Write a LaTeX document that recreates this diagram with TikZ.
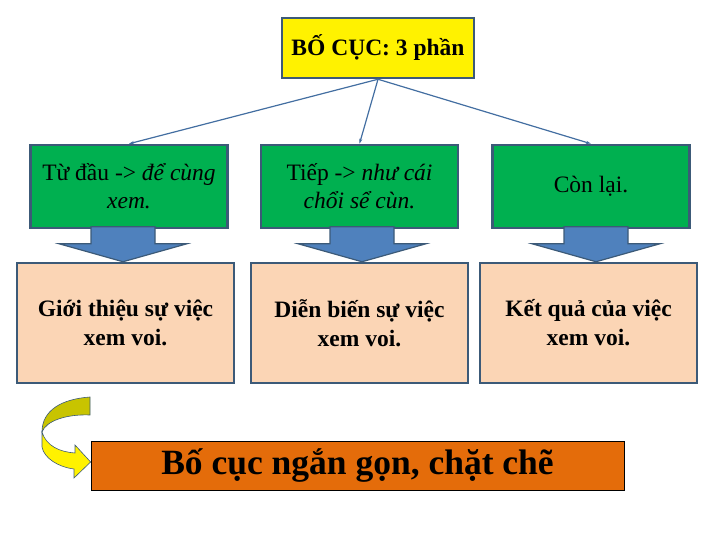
\documentclass[tikz,border=0pt]{standalone}
\usepackage{fontspec}
\setmainfont{Liberation Serif}
\usepackage{xcolor}
\usepackage{tikz}
\usetikzlibrary{calc, arrows.meta, positioning}

\definecolor{khung}{HTML}{3C5A78}
\definecolor{xanhla}{HTML}{00B050}
\definecolor{xanhduong}{HTML}{4F81BD}
\definecolor{camnhat}{HTML}{FBD5B5}
\definecolor{cam}{HTML}{E46C0A}
\definecolor{vangreu}{HTML}{C8C400}

\begin{document}
\begin{tikzpicture}[x=1pt, y=-1pt,
    hop/.style={draw=khung, line width=2.5pt, align=center, inner sep=0pt},
    tieude/.style={hop, fill=yellow, minimum width=192pt, minimum height=60pt,
        font=\fontsize{23.5}{28}\selectfont\bfseries},
    phan/.style={hop, fill=xanhla, minimum width=197pt, minimum height=83pt,
        font=\fontsize{23.5}{28}\selectfont},
    noidung/.style={hop, fill=camnhat, minimum width=217pt, minimum height=120pt,
        font=\fontsize{23.5}{29}\selectfont\bfseries},
    noi/.style={draw=xanhduong!85!black, line width=1.2pt, -{Stealth[length=5pt, width=3pt]}},
    muiten/.style={draw=khung, line width=1.2pt, fill=xanhduong}]

    \useasboundingbox (0,0) rectangle (720,540);

    % =================================================================
    % HỘP TIÊU ĐỀ
    % =================================================================
    \node[tieude] (tong) at (378,48) {BỐ CỤC: 3 phần};

    % =================================================================
    % BA PHẦN (HỘP XANH) VÀ NỘI DUNG (HỘP CAM NHẠT)
    % =================================================================
    \node[phan] (g1) at (129,186.5) {Từ đầu -> \textit{để cùng}\\\textit{xem.}};
    \node[phan] (g2) at (359.5,186.5) {Tiếp -> \textit{như cái}\\\textit{chổi sể cùn.}};
    \node[phan] (g3) at (591,186.5) {Còn lại.};

    \node[noidung] (p1) at (125.5,323) {Giới thiệu sự việc\\xem voi.};
    \node[noidung] (p2) at (359.5,323) {Diễn biến sự việc\\xem voi.};
    \node[noidung] (p3) at (588.5,323) {Kết quả của việc\\xem voi.};

    % Đường nối từ tiêu đề xuống ba phần
    \foreach \i in {1,2,3}
        \draw[noi] (tong.south) -- (g\i.north);

    % Mũi tên khối từ hộp xanh xuống hộp cam nhạt
    \foreach \i/\dx in {1/-2.5,2/2.5,3/7.5} {
        \draw[muiten] ($(p\i.north)+(\dx,0)$) -- ++(-64,-18) -- ++(32,0) -- ++(0,-17)
            -- ++(64,0) -- ++(0,17) -- ++(32,0) -- cycle;
    }

    % =================================================================
    % KẾT LUẬN VÀ MŨI TÊN CONG
    % =================================================================
    \node[draw=black, line width=0.8pt, fill=cam, minimum width=533pt, minimum height=49pt,
        inner sep=0pt, font=\fontsize{35.5}{40}\selectfont\bfseries] (ketluan) at (357.5,465.5)
        {Bố cục ngắn gọn, chặt chẽ};

    % Nửa trên (màu vàng rêu)
    \draw[khung, line width=0.6pt, fill=vangreu] (90,397) .. controls (62,399) and (42,410) .. (42,432)
        .. controls (46,421) and (66,414) .. (90,415) -- cycle;
    % Nửa dưới có đầu mũi tên (màu vàng)
    \draw[khung, line width=0.6pt, fill=yellow] (42,432) -- (42,447)
        .. controls (44,458) and (58,467) .. (74,469) -- (74,478) -- (ketluan.west |- 0,462)
        -- (75,445) -- (75,453) .. controls (60,452) and (46,446) .. (42,432) -- cycle;

\end{tikzpicture}
\end{document}
